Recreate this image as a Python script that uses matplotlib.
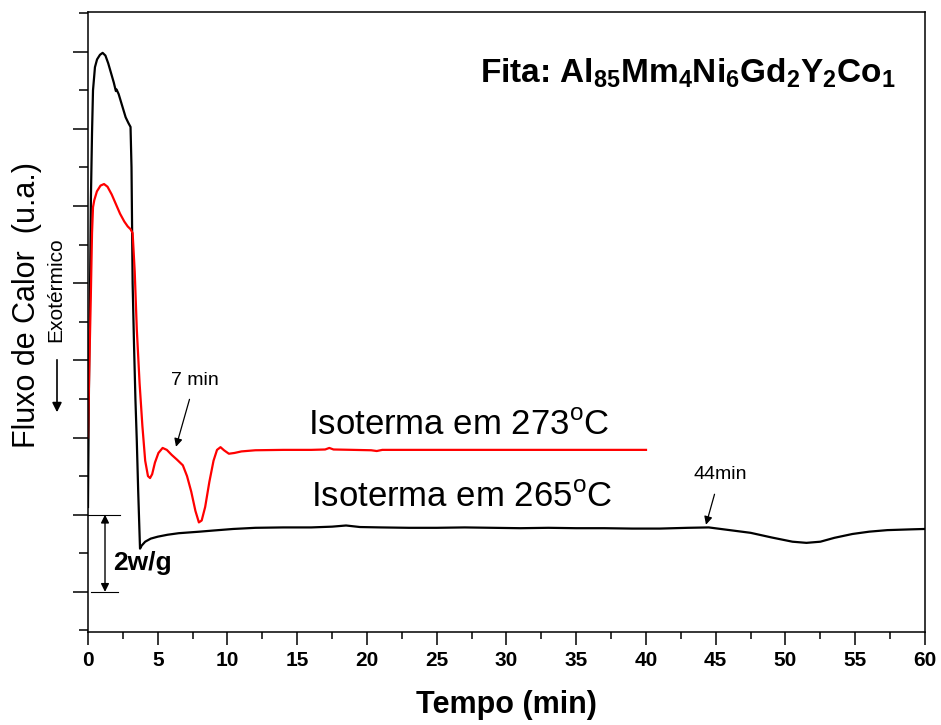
import matplotlib
matplotlib.use('Agg')
import matplotlib.pyplot as plt
from matplotlib.ticker import MultipleLocator

plt.rcParams['font.family'] = ['Liberation Sans', 'DejaVu Sans']
plt.rcParams['mathtext.fontset'] = 'custom'
plt.rcParams['mathtext.rm'] = 'Liberation Sans'
plt.rcParams['mathtext.bf'] = 'Liberation Sans:bold'

# isoterma 265 C (preta)
t_265 = [0.0, 0.05, 0.1, 0.14, 0.21, 0.29, 0.36, 0.5, 0.65, 0.86, 1.05, 1.25,
         1.45, 1.65, 1.85, 1.95, 2.0, 2.05, 2.2, 2.45, 2.7, 2.9, 3.05, 3.12,
         3.2, 3.3, 3.4, 3.5, 3.6, 3.73, 3.85, 4.1, 4.5, 5.0, 5.7, 6.5, 8.0, 9.0,
         10.4, 12.0, 14.0, 16.0, 17.5, 18.5, 19.5, 21.0, 23.0, 25.0, 27.0, 29.0,
         31.0, 33.0, 35.0, 37.0, 39.0, 41.0, 43.0, 44.5, 46.0, 47.5, 49.0, 50.5,
         51.5, 52.5, 53.5, 54.8, 56.0, 57.3, 59.0, 60.0]
q_265 = [2.2, 4.5, 6.5, 7.6, 10.2, 11.9, 13.0, 13.6, 13.8, 13.92, 13.97, 13.9,
         13.7, 13.45, 13.2, 13.05, 12.98, 13.02, 12.9, 12.6, 12.3, 12.15, 12.05,
         11.0, 8.0, 6.4, 5.0, 3.9, 2.6, 1.12, 1.2, 1.3, 1.38, 1.43, 1.48, 1.52,
         1.56, 1.59, 1.63, 1.66, 1.67, 1.67, 1.69, 1.72, 1.68, 1.67, 1.66, 1.66,
         1.67, 1.66, 1.65, 1.66, 1.65, 1.65, 1.64, 1.64, 1.66, 1.67, 1.6, 1.53,
         1.41, 1.3, 1.27, 1.3, 1.4, 1.5, 1.56, 1.6, 1.62, 1.63]

# isoterma 273 C (vermelha)
t_273 = [0.0, 0.05, 0.1, 0.2, 0.29, 0.36, 0.45, 0.64, 0.9, 1.15, 1.4, 1.7, 2.0,
         2.3, 2.6, 2.85, 3.05, 3.2, 3.35, 3.5, 3.7, 3.9, 4.1, 4.3, 4.45, 4.6,
         4.8, 5.05, 5.35, 5.65, 6.0, 6.4, 6.8, 7.1, 7.4, 7.7, 7.95, 8.15, 8.4,
         8.7, 9.0, 9.25, 9.5, 9.75, 10.1, 10.5, 11.0, 12.0, 14.0, 16.0, 17.0,
         17.3, 17.6, 19.0, 20.3, 20.7, 21.1, 23.0, 26.0, 30.0, 34.0, 37.0, 40.0]
q_273 = [4.0, 5.0, 5.9, 7.6, 9.3, 9.97, 10.15, 10.38, 10.53, 10.57, 10.5, 10.3,
         10.05, 9.8, 9.6, 9.47, 9.4, 9.3, 8.3, 6.8, 5.4, 4.3, 3.4, 3.0, 2.95,
         3.05, 3.35, 3.6, 3.73, 3.68, 3.55, 3.42, 3.28, 3.0, 2.6, 2.1, 1.8, 1.85,
         2.2, 2.85, 3.4, 3.68, 3.75, 3.67, 3.58, 3.6, 3.64, 3.67, 3.68, 3.68,
         3.69, 3.73, 3.69, 3.68, 3.67, 3.65, 3.68, 3.68, 3.68, 3.68, 3.68, 3.68,
         3.68]

fig = plt.figure(figsize=(9.41, 7.25), dpi=100)
ax = fig.add_axes([0.0935, 0.1283, 0.8895, 0.8552])

ax.plot(t_265, q_265, color='black', lw=1.6)
ax.plot(t_273, q_273, color='#ff0000', lw=1.6)

ax.set_xlim(0, 60)
ax.set_ylim(-1.04, 15.03)
ax.xaxis.set_major_locator(MultipleLocator(5))
ax.xaxis.set_minor_locator(MultipleLocator(2.5))
ax.yaxis.set_major_locator(MultipleLocator(2))
ax.yaxis.set_minor_locator(MultipleLocator(1))
ax.set_yticklabels([])
ax.tick_params(axis='y', which='major', direction='out', length=11, width=1.1)
ax.tick_params(axis='y', which='minor', direction='out', length=6.5, width=1.1)
ax.tick_params(axis='x', which='major', direction='out', length=9, width=1.1,
               labelsize=15, pad=5)
ax.tick_params(axis='x', which='minor', direction='out', length=5, width=1.1)
for lab in ax.get_xticklabels():
    lab.set_fontweight('bold')
for sp in ax.spines.values():
    sp.set_linewidth(1.1)

ax.set_xlabel('Tempo (min)', fontsize=22, fontweight='bold', labelpad=14)

fig.text(27 / 941, 1 - 305 / 725, 'Fluxo de Calor  (u.a.)', rotation=90,
         fontsize=22, ha='center', va='center')
fig.text(56 / 941, 1 - 290 / 725, 'Exotérmico', rotation=90,
         fontsize=15, ha='center', va='center')
fig.add_artist(matplotlib.patches.FancyArrowPatch(
    (57 / 941, 1 - 357 / 725), (57 / 941, 1 - 415 / 725),
    transform=fig.transFigure, arrowstyle='-|>', mutation_scale=14,
    color='black', lw=1.2))

ax.text(43.0, 13.21, r'Fita: $\mathbf{Al_{85}Mm_4Ni_6Gd_2Y_2Co_1}$',
        fontsize=24, fontweight='bold', ha='center', va='baseline')
ax.text(26.56, 4.07, r'Isoterma em 273$^{\mathrm{o}}$C', fontsize=25,
        ha='center', va='baseline')
ax.text(26.77, 2.2, r'Isoterma em 265$^{\mathrm{o}}$C', fontsize=25,
        ha='center', va='baseline')

# escala 2 w/g
ax.plot([0, 2.3], [2, 2], color='black', lw=0.8)
ax.plot([0.2, 2.15], [0, 0], color='black', lw=0.8)
ax.annotate('', xy=(1.22, 2), xytext=(1.22, 0),
            arrowprops=dict(arrowstyle='<|-|>', color='black', lw=1,
                            mutation_scale=12, shrinkA=0, shrinkB=0))
ax.text(1.79, 0.57, '2w/g', fontsize=19, fontweight='bold', ha='left',
        va='baseline')

ax.annotate('7 min', xy=(6.31, 3.76), xytext=(7.67, 5.49), fontsize=14,
            ha='center', va='center',
            arrowprops=dict(arrowstyle='-|>', color='black', lw=0.9,
                            mutation_scale=12, shrinkA=6, shrinkB=0))
ax.annotate('44min', xy=(44.3, 1.74), xytext=(45.3, 3.03), fontsize=14,
            ha='center', va='center',
            arrowprops=dict(arrowstyle='-|>', color='black', lw=0.9,
                            mutation_scale=12, shrinkA=6, shrinkB=0))

fig.savefig('out.png', dpi=100)
